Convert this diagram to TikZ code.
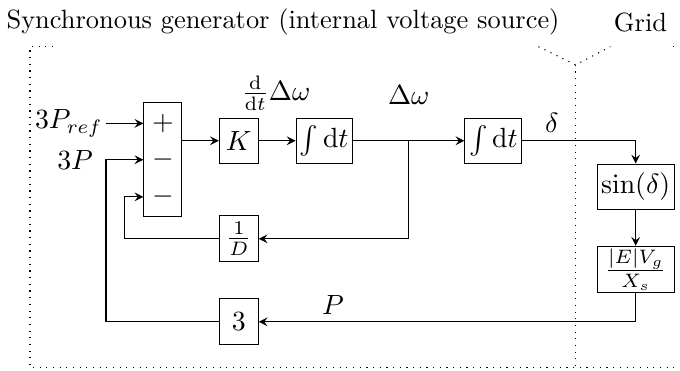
\documentclass[tikz,border=0pt]{standalone}
\usepackage{amsmath}
\usepackage{amssymb}
\usepackage{xcolor}
\usepackage{tikz}

\begin{document}
\begin{tikzpicture}[
        box/.style={rectangle, draw, inner sep=1pt, minimum width=0.49cm, minimum height=0.57cm, text centered},
        arrow/.style={->, >=stealth},
        region/.style={dotted}
    ]
    \useasboundingbox (0,0) rectangle (8.60,4.68);

    % Region titles
    \node[scale=0.95] (gen) at (3.58,4.40) {Synchronous generator (internal voltage source)};
    \node[scale=0.95] (grid) at (8.10,4.40) {Grid};

    % Region borders
    \draw[region] (0.67,4.09) -- (0.38,4.09) -- (0.38,0.03) -- (8.60,0.03);
    \draw[region] (6.81,4.09) -- (7.28,3.86) -- (7.72,4.09);
    \draw[region] (7.28,3.86) -- (7.28,0.03);
    \draw[region] (8.51,4.09) -- (8.60,4.09);

    % Summing junction
    \node[box, minimum width=0.48cm, minimum height=1.44cm] (sum) at (2.06,2.66) {};
    \node (plus) at (2.06,3.12) {$+$};
    \node (minusP) at (2.06,2.66) {$-$};
    \node (minusD) at (2.06,2.19) {$-$};

    % Inputs
    \node[anchor=east, inner sep=1pt] (pref) at (1.34,3.12) {$3P_{ref}$};
    \node (pin) at (0.95,2.66) {$3P$};

    % Forward path
    \node[box] (gain) at (3.02,2.90) {$K$};
    \node[box, minimum width=0.71cm] (int1) at (4.10,2.90) {$\int \mathrm{d}t$};
    \coordinate (branch) at (5.17,2.90);
    \node[box, minimum width=0.72cm] (int2) at (6.24,2.90) {$\int \mathrm{d}t$};

    % Grid side
    \node[box, minimum width=0.97cm] (sine) at (8.04,2.32) {$\sin(\delta)$};
    \node[box, minimum width=0.97cm] (power) at (8.04,1.27) {$\frac{|E|V_g}{X_s}$};

    % Feedback blocks
    \node[box, minimum height=0.58cm] (damp) at (3.02,1.66) {$\frac{1}{D}$};
    \node[box, minimum height=0.58cm] (three) at (3.02,0.61) {$3$};
    \coordinate (loopP) at (1.34,2.66);
    \coordinate (loopD) at (1.58,2.19);

    % Signal labels
    \node[inner sep=0pt] (dw) at (3.49,3.50) {$\frac{\mathrm{d}}{\mathrm{d}t}\Delta\omega$};
    \node (w) at (5.17,3.48) {$\Delta\omega$};
    \node (delta) at (6.98,3.12) {$\delta$};
    \node (p) at (4.21,0.82) {$P$};

    % Arrows
    \draw[arrow] (pref.east) -- (sum.west |- plus);
    \draw[arrow] (sum.east |- gain) -- (gain);
    \draw[arrow] (gain) -- (int1);
    \draw[arrow] (int1) -- (int2);
    \draw[arrow] (int2) -| (sine);
    \draw[arrow] (sine) -- (power);
    \draw[arrow] (power) |- (three);
    \draw[arrow] (three) -| (loopP) -- (sum.west |- minusP);
    \draw[arrow] (branch) |- (damp);
    \draw[arrow] (damp) -| (loopD) -- (sum.west |- minusD);

\end{tikzpicture}
\end{document}
